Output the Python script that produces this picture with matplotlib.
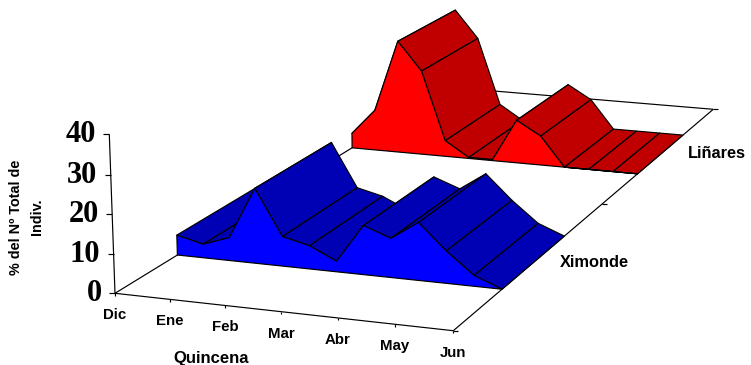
import matplotlib
matplotlib.use("Agg")
import matplotlib.pyplot as plt
from matplotlib.patches import Polygon
import numpy as np

months = ["Dic", "Ene", "Feb", "Mar", "Abr", "May", "Jun"]
series_names = ["Ximonde", "Liñares"]
yticks = [0, 10, 20, 30, 40]
ximonde = [5.3, 3.6, 6.1, 19.7, 7.8, 6.1, 2.8, 12.8, 10.2, 15.0, 8.4, 2.8, 0.0]
linares = [4.4, 12.0, 33.2, 24.9, 4.7, 0.3, 0.3, 12.7, 8.6, 0.0, 0.0, 0.0, 0.0]

# Excel-style 3D chart: projective camera (u along time, d into depth, v/40 up)
CAM = np.array([[321.15, 482.1, -7.53, 115.0],
                [24.9, -177.5, -161.3, 293.3],
                [-0.03784, 0.3252, -0.01673, 1.0]])
VMAX = 40.0


def project(u, d, v=0.0):
    p = CAM @ np.array([u, d, v / VMAX, 1.0])
    return p[0] / p[2], p[1] / p[2]


fig = plt.figure(figsize=(7.51, 3.65), dpi=100)
ax = fig.add_axes([0, 0, 1, 1])
ax.set_xlim(0, 751)
ax.set_ylim(365, 0)
ax.axis("off")
LW = 0.85


def seg(a, b, z=1):
    ax.plot([a[0], b[0]], [a[1], b[1]], color="black", lw=LW, zorder=z,
            solid_capstyle="butt")


# floor and axes
A, B, C, D = project(0, 0), project(1, 0), project(1, 1), project(0, 1)
seg(A, B); seg(B, C); seg(C, D); seg(D, A)
seg(A, project(0, 0, VMAX))
for t in yticks:
    p = project(0, 0, t)
    seg((p[0] - 6, p[1]), p)
    ax.text(p[0] - 13.3, p[1] + 0.5, str(t), ha="right", va="center",
            family="Liberation Serif", weight="bold", fontsize=22)
for i, m in enumerate(months):
    p = project(i / 6, 0)
    seg(p, (p[0], p[1] + 2.5))
    ax.text(p[0], p[1] + 22, m, ha="center", va="center",
            family="Liberation Sans", weight="bold", fontsize=10.8)
for d in [0.0, 0.5, 1.0]:
    p = project(1, d)
    seg(p, (p[0] + 5, p[1]))
for d, name in zip([0.25, 0.75], series_names):
    p = project(1, d)
    ax.text(p[0] + 26, p[1] + 0.5, name, ha="left", va="center",
            family="Liberation Sans", weight="bold", fontsize=11.8)
ax.text(211, 358, "Quincena", ha="center", va="center",
        family="Liberation Sans", weight="bold", fontsize=12)
ax.text(26.5, 217, "% del Nº Total de\nIndiv.", ha="center", va="center", rotation=90,
        linespacing=1.6, multialignment="center",
        family="Liberation Sans", weight="bold", fontsize=10.4)


def ribbon(values, d0, d1, face, top, z):
    n = len(values)
    us = [k / (n - 1) for k in range(n)]
    for k in range(n - 1):
        quad = [project(us[k], d0, values[k]), project(us[k + 1], d0, values[k + 1]),
                project(us[k + 1], d1, values[k + 1]), project(us[k], d1, values[k])]
        ax.add_patch(Polygon(quad, closed=True, facecolor=top, edgecolor="black",
                             lw=LW, zorder=z, joinstyle="round"))
        z += 0.01
    outline = [project(us[0], d0, 0)] + [project(u, d0, v) for u, v in zip(us, values)] + \
              [project(us[-1], d0, 0)]
    ax.add_patch(Polygon(outline, closed=True, facecolor=face, edgecolor="black",
                         lw=LW, zorder=z, joinstyle="round"))


ribbon(linares, 0.645, 0.85, "#FF0000", "#C00000", 2)
ribbon(ximonde, 0.147, 0.358, "#0000FF", "#0000B4", 3)

fig.savefig("out.png", dpi=100)
